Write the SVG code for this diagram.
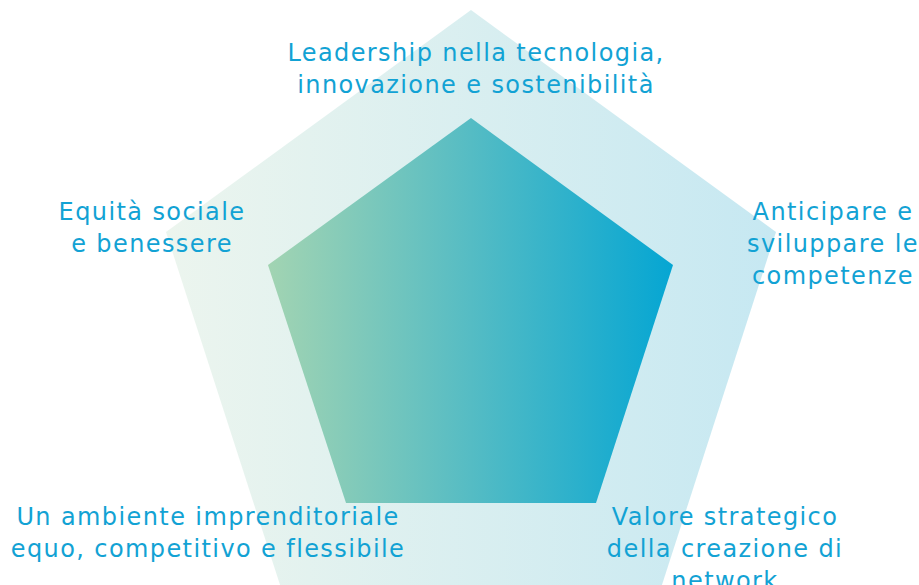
<svg xmlns="http://www.w3.org/2000/svg" width="919" height="585" viewBox="0 0 919 585">
<defs>
<linearGradient id="gOuter" x1="166" y1="0" x2="776" y2="0" gradientUnits="userSpaceOnUse">
<stop offset="0" stop-color="#ecf5ee"/>
<stop offset="1" stop-color="#c6e8f2"/>
</linearGradient>
<linearGradient id="gInner" x1="268" y1="0" x2="673" y2="0" gradientUnits="userSpaceOnUse">
<stop offset="0" stop-color="#a2d4b2"/>
<stop offset="0.5" stop-color="#55bcc4"/>
<stop offset="1" stop-color="#05a6d3"/>
</linearGradient>
<style>
.lbl{font-family:"DejaVu Sans","Liberation Sans",sans-serif;font-size:24px;letter-spacing:1.4px;fill:#12a2d4;text-anchor:middle}
</style>
</defs>
<rect width="919" height="585" fill="#ffffff"/>
<g id="outer">
<polygon points="471,10 776,232 660,591 282,591 166,232" fill="url(#gOuter)"/>
</g>
<g id="inner">
<polygon points="471,118 673,265 596,503 346,503 268,265" fill="url(#gInner)"/>
</g>
<g id="connectors"></g>
<g id="n-top">
<text class="lbl" x="476" y="61">Leadership nella tecnologia,</text>
<text class="lbl" x="476" y="93">innovazione e sostenibilità</text>
</g>
<g id="n-left">
<text class="lbl" x="152" y="220">Equità sociale</text>
<text class="lbl" x="152" y="252">e benessere</text>
</g>
<g id="n-right">
<text class="lbl" x="833" y="220">Anticipare e</text>
<text class="lbl" x="833" y="252">sviluppare le</text>
<text class="lbl" x="833" y="284">competenze</text>
</g>
<g id="n-bottomleft">
<text class="lbl" x="208" y="525">Un ambiente imprenditoriale</text>
<text class="lbl" x="208" y="557">equo, competitivo e flessibile</text>
</g>
<g id="n-bottomright">
<text class="lbl" x="725" y="525">Valore strategico</text>
<text class="lbl" x="725" y="557">della creazione di</text>
<text class="lbl" x="725" y="589">network</text>
</g>
</svg>
